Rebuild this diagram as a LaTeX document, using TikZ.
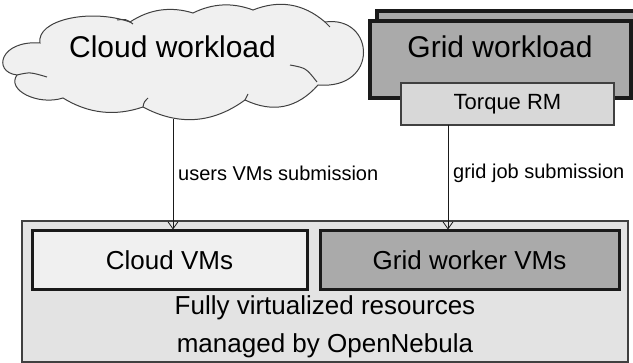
\documentclass[tikz,border=0pt]{standalone}
\usepackage{fontspec}
\setmainfont{Liberation Sans}
\usetikzlibrary{arrows.meta}
\definecolor{lightfill}{HTML}{F0F0F0}
\definecolor{gridgray}{HTML}{AAAAAA}
\definecolor{torquefill}{HTML}{D8D8D8}
\definecolor{outerfill}{HTML}{E3E3E3}
\definecolor{edgedark}{HTML}{1A1A1A}
\definecolor{edgemid}{HTML}{404040}
\tikzset{
  thickbox/.style={draw=edgedark, line width=3pt, inner sep=0pt},
  thinbox/.style={draw=edgemid, line width=1.3pt, inner sep=0pt},
  cloudline/.style={draw=edgemid, line width=1pt},
  arr/.style={-{Straight Barb[length=7pt,width=10pt]}, line width=0.8pt, draw=edgedark},
  lbl/.style={font=\fontsize{20}{23}\selectfont, anchor=west, inner sep=0pt},
}
\begin{document}
\begin{tikzpicture}[x=1pt,y=-1pt]
\useasboundingbox (0,0) rectangle (633,363);
% outer resources box
\node[thinbox, fill=outerfill, minimum width=606pt, minimum height=141pt] (outer) at (325,291.5) {};
\node[thickbox, fill=lightfill, minimum width=275pt, minimum height=59pt, font=\fontsize{26}{30}\selectfont] (cvms) at (169.5,260.5) {Cloud VMs};
\node[thickbox, fill=gridgray, minimum width=299pt, minimum height=59pt, font=\fontsize{26}{30}\selectfont] (gvms) at (469.5,260.5) {Grid worker VMs};
\node[font=\fontsize{26}{38}\selectfont, align=center, inner sep=0pt] (res) at (325,327) {Fully virtualized resources\\managed by OpenNebula};
% cloud outline
\path[cloudline, fill=lightfill]
  (40,43) .. controls (36,20) and (90,8) .. (130,22)
  .. controls (149.6,9.1) and (170.6,6.1) .. (193,13)
  .. controls (212.6,3.3) and (232.6,2.3) .. (253,10)
  .. controls (279.4,-0.5) and (303.4,3.5) .. (325,22)
  .. controls (375,15) and (380,90) .. (318,85)
  .. controls (297.4,108.3) and (273,113.3) .. (245,100)
  .. controls (212.5,123.6) and (178.5,126) .. (143,107)
  .. controls (114.9,116.6) and (88.3,113.6) .. (63,98)
  .. controls (38,106) and (6,90) .. (17,75)
  .. controls (-8,72) and (0,40) .. (40,43) -- cycle;
% inner strokes of the cloud
\draw[cloudline] (17,75) .. controls (30,72) .. (47,77);
\draw[cloudline] (117,20) .. controls (126,19) .. (133,24);
\draw[cloudline] (290,65) .. controls (306,68) .. (317,82);
\draw[cloudline] (143,107) .. controls (144,102) .. (148,98);
\draw[cloudline] (245,100) .. controls (246,97) .. (248,94);
\draw[cloudline] (325,22) .. controls (328,24) .. (330,27);
\node[font=\fontsize{30}{34}\selectfont, inner sep=0pt] (cwtext) at (172.5,47) {Cloud workload};
\coordinate (cloudbot) at (173,119);
% grid workload
\node[thickbox, line width=3.5pt, fill=gridgray, minimum width=261pt, minimum height=77pt] (gback) at (507.5,49.5) {};
\node[thickbox, line width=3.5pt, fill=gridgray, minimum width=261pt, minimum height=77pt] (gfront) at (500.5,59.5) {};
\node[font=\fontsize{30}{34}\selectfont, inner sep=0pt] (gwtext) at (500,47) {Grid workload};
\node[thinbox, fill=torquefill, minimum width=213pt, minimum height=42pt, font=\fontsize{22}{26}\selectfont] (torque) at (507.5,104) {Torque RM};
% arrows
\coordinate (a2top) at (448,125);
\draw[arr] (cloudbot) -- (cloudbot |- cvms.north);
\draw[arr] (a2top) -- (a2top |- gvms.north);
\node[lbl] (l1) at (178,173) {users VMs submission};
\node[lbl] (l2) at (453,173) {grid job submission};
\end{tikzpicture}
\end{document}
